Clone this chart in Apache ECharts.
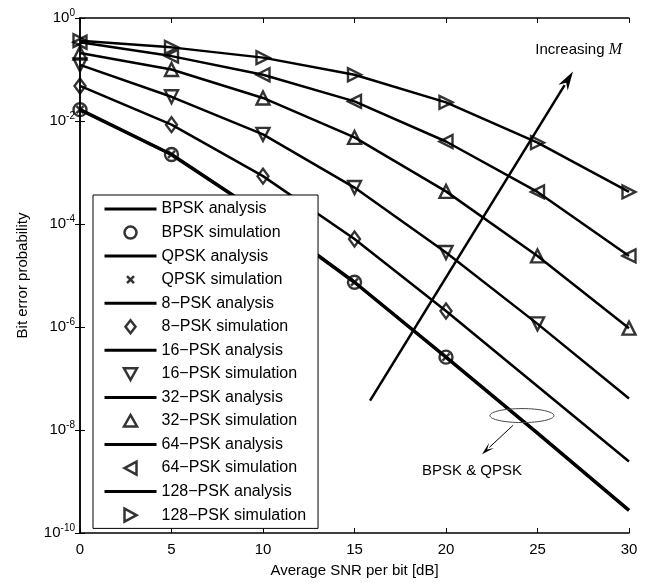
<!DOCTYPE html>
<html>
<head>
<meta charset="utf-8">
<script src="https://cdn.jsdelivr.net/npm/echarts@6/dist/echarts.min.js"></script>
<style>
  html, body { margin: 0; padding: 0; background: #fff; }
  #chart { width: 647px; height: 583px; }
</style>
</head>
<body>
<div id="chart"></div>
<script>
// average SNR per bit [dB]
const snr = [0, 5, 10, 15, 20, 25, 30];

// analysis curves
const bpskAna   = [1.66e-2, 2.24e-3, 1.48e-4, 7.4e-6, 2.6e-7, 8.7e-9, 2.75e-10];
const qpskAna   = [1.66e-2, 2.24e-3, 1.48e-4, 7.4e-6, 2.6e-7, 8.7e-9, 2.75e-10];
const psk8Ana   = [4.8e-2, 8.5e-3, 8.5e-4, 5.1e-5, 2.04e-6, 7.1e-8, 2.45e-9];
const psk16Ana  = [0.123, 2.95e-2, 5.5e-3, 5.1e-4, 2.8e-5, 1.15e-6, 4.1e-8];
const psk32Ana  = [0.209, 0.100, 2.8e-2, 4.8e-3, 4.3e-4, 2.4e-5, 9.5e-7];
const psk64Ana  = [0.339, 0.182, 7.9e-2, 2.4e-2, 4.0e-3, 4.2e-4, 2.4e-5];
const psk128Ana = [0.363, 0.269, 0.170, 7.9e-2, 2.3e-2, 3.8e-3, 4.2e-4];

// simulation points
const bpskSim   = [1.66e-2, 2.24e-3, 1.48e-4, 7.4e-6, 2.6e-7];
const qpskSim   = [1.66e-2, 2.24e-3, 1.48e-4, 7.4e-6, 2.6e-7];
const psk8Sim   = [4.8e-2, 8.5e-3, 8.5e-4, 5.1e-5, 2.04e-6];
const psk16Sim  = [0.123, 2.95e-2, 5.5e-3, 5.1e-4, 2.8e-5, 1.15e-6];
const psk32Sim  = [0.209, 0.100, 2.8e-2, 4.8e-3, 4.3e-4, 2.4e-5, 9.5e-7];
const psk64Sim  = [0.339, 0.182, 7.9e-2, 2.4e-2, 4.0e-3, 4.2e-4, 2.4e-5];
const psk128Sim = [0.363, 0.269, 0.170, 7.9e-2, 2.3e-2, 3.8e-3, 4.2e-4];

const FONT = 'Liberation Sans, Arial, sans-serif';
const pts = arr => arr.map((v, i) => [snr[i], v]);

// legend icons: bbox forced to 52x14 so the marker keeps its shape
const BOX = 'M0,0M52,14';
const icons = {
  circle: 'path://' + BOX + 'M32,7A6,6 0 1 1 20,7A6,6 0 1 1 32,7Z',
  cross: 'path://' + BOX + 'M22.5,3.5L29.5,10.5M29.5,3.5L22.5,10.5',
  diamond: 'path://' + BOX + 'M26,0.5L31,7L26,13.5L21,7Z',
  down: 'path://' + BOX + 'M19.5,1.5L32.5,1.5L26,13Z',
  up: 'path://' + BOX + 'M26,1L32.5,12.5L19.5,12.5Z',
  left: 'path://' + BOX + 'M20,7L32,0.5L32,13.5Z',
  right: 'path://' + BOX + 'M32,7L20,0.5L20,13.5Z'
};

function ana(name, arr, w) {
  return {
    name: name, type: 'line', data: pts(arr), symbol: 'none',
    lineStyle: { color: '#000', width: w || 2.5 },
    itemStyle: { color: 'rgba(0,0,0,0)' },
    animation: false, z: 2
  };
}
function sim(name, arr, symbol, size, rotate, bw) {
  return {
    name: name, type: 'scatter', data: pts(arr), symbol: symbol, symbolSize: size,
    symbolRotate: rotate || 0,
    itemStyle: { color: 'rgba(0,0,0,0)', borderColor: '#000', borderWidth: bw || 2.4 },
    animation: false, z: 3
  };
}

const xMark = 'path://M0,0L10,10M10,0L0,10';

const series = [
  ana('BPSK analysis', bpskAna, 3.5),
  sim('BPSK simulation', bpskSim, 'circle', 13),
  ana('QPSK analysis', qpskAna),
  sim('QPSK simulation', qpskSim, xMark, 7, 0, 2.5),
  ana('8−PSK analysis', psk8Ana),
  sim('8−PSK simulation', psk8Sim, 'diamond', [11, 15]),
  ana('16−PSK analysis', psk16Ana),
  sim('16−PSK simulation', psk16Sim, 'triangle', 13, 180),
  ana('32−PSK analysis', psk32Ana),
  sim('32−PSK simulation', psk32Sim, 'triangle', 13),
  ana('64−PSK analysis', psk64Ana),
  sim('64−PSK simulation', psk64Sim, 'triangle', 13, 90),
  ana('128−PSK analysis', psk128Ana),
  sim('128−PSK simulation', psk128Sim, 'triangle', 13, -90)
];
const simIcons = [icons.circle, icons.cross, icons.diamond, icons.down, icons.up, icons.left, icons.right];

const legendData = series.map((s, i) =>
  s.type === 'scatter' ? { name: s.name, icon: simIcons[(i - 1) / 2] } : { name: s.name });

const chart = echarts.init(document.getElementById('chart'));

const expLabel = v => '{b|10}{s|' + Math.round(Math.log10(v)) + '}';

chart.setOption({
  animation: false,
  backgroundColor: '#fff',
  textStyle: { fontFamily: FONT },
  grid: { left: 80, right: 18, top: 18, bottom: 48 },
  legend: {
    orient: 'vertical', left: 93, top: 195, z: 20,
    padding: [6, 12, 5, 10],
    itemWidth: 52, itemHeight: 14, itemGap: 7.3,
    symbolRotate: 0, symbolKeepAspect: true,
    lineStyle: { width: 3 },
    itemStyle: { borderWidth: 2.5 },
    backgroundColor: '#fff', borderColor: '#000', borderWidth: 1,
    textStyle: { fontFamily: FONT, fontSize: 16, color: '#000' },
    data: legendData
  },
  xAxis: [{
    type: 'value', min: 0, max: 30, interval: 5,
    name: 'Average SNR per bit [dB]', nameLocation: 'middle', nameGap: 30,
    nameTextStyle: { fontFamily: FONT, fontSize: 15, color: '#000' },
    axisLine: { lineStyle: { color: '#000', width: 1.5 } },
    axisTick: { inside: true, length: 5, lineStyle: { color: '#000' } },
    axisLabel: { fontFamily: FONT, fontSize: 15, color: '#000', margin: 9 },
    splitLine: { show: false }
  }, {
    type: 'value', min: 0, max: 30, interval: 5, position: 'top',
    axisLine: { lineStyle: { color: '#000', width: 1.5 } },
    axisTick: { inside: true, length: 5, lineStyle: { color: '#000' } },
    axisLabel: { show: false }, splitLine: { show: false }
  }],
  yAxis: [{
    type: 'log', logBase: 10, min: 1e-10, max: 1, interval: 2,
    name: 'Bit error probability', nameLocation: 'middle', nameGap: 50,
    nameTextStyle: { fontFamily: FONT, fontSize: 15, color: '#000' },
    axisLine: { lineStyle: { color: '#000', width: 1.5 } },
    axisTick: { inside: true, length: 5, lineStyle: { color: '#000' } },
    axisLabel: {
      margin: 5, formatter: expLabel,
      rich: {
        b: { fontFamily: FONT, fontSize: 15, color: '#000' },
        s: { fontFamily: FONT, fontSize: 10, color: '#000', padding: [0, 0, 10, 0] }
      }
    },
    splitLine: { show: false }
  }, {
    type: 'log', logBase: 10, min: 1e-10, max: 1, interval: 2, position: 'right',
    axisLine: { lineStyle: { color: '#000', width: 1.5 } },
    axisTick: { inside: true, length: 5, lineStyle: { color: '#000' } },
    axisLabel: { show: false }, splitLine: { show: false }
  }],
  series: series
});

// annotations, placed in data coordinates
const px = (x, logY) => chart.convertToPixel({ xAxisIndex: 0, yAxisIndex: 0 }, [x, Math.pow(10, logY)]);

function arrow(a, b, w, headLen, headW) {
  const dx = b[0] - a[0], dy = b[1] - a[1];
  const L = Math.hypot(dx, dy), ux = dx / L, uy = dy / L;
  const base = [b[0] - ux * headLen, b[1] - uy * headLen];
  const nx = -uy, ny = ux;
  return [
    { type: 'line', shape: { x1: a[0], y1: a[1], x2: base[0], y2: base[1] },
      style: { stroke: '#000', lineWidth: w }, z: 10 },
    { type: 'polygon', shape: { points: [
        b,
        [base[0] + nx * headW / 2 - ux * 3, base[1] + ny * headW / 2 - uy * 3],
        [base[0] + ux * 3, base[1] + uy * 3],
        [base[0] - nx * headW / 2 - ux * 3, base[1] - ny * headW / 2 - uy * 3]
      ] }, style: { fill: '#000' }, z: 10 }
  ];
}

const bigA = px(15.85, -7.43), bigB = px(26.94, -1.04);
const ell = px(24.15, -7.72);
const smA = px(23.66, -7.91), smB = px(21.97, -8.47);
const lab = px(21.42, -8.80);
const inc = px(29.62, -0.62);

chart.setOption({
  graphic: [].concat(
    arrow(bigA, bigB, 2.5, 16, 11),
    arrow(smA, smB, 1, 10, 7),
    [
      { type: 'ellipse', shape: { cx: ell[0], cy: ell[1], rx: 32, ry: 7 },
        style: { fill: 'none', stroke: '#444', lineWidth: 1 }, z: 10 },
      { type: 'text', x: lab[0], y: lab[1],
        style: { text: 'BPSK & QPSK', font: '15px ' + FONT, fill: '#000',
                 align: 'center', verticalAlign: 'middle' }, z: 10 },
      { type: 'text', x: inc[0], y: inc[1],
        style: { text: '{a|Increasing }{m|M}', align: 'right', verticalAlign: 'middle',
                 rich: { a: { font: '15px ' + FONT, fill: '#000' },
                         m: { font: 'italic 16px "Liberation Serif", serif', fill: '#000' } } },
        z: 10 }
    ]
  )
});
</script>
</body>
</html>
